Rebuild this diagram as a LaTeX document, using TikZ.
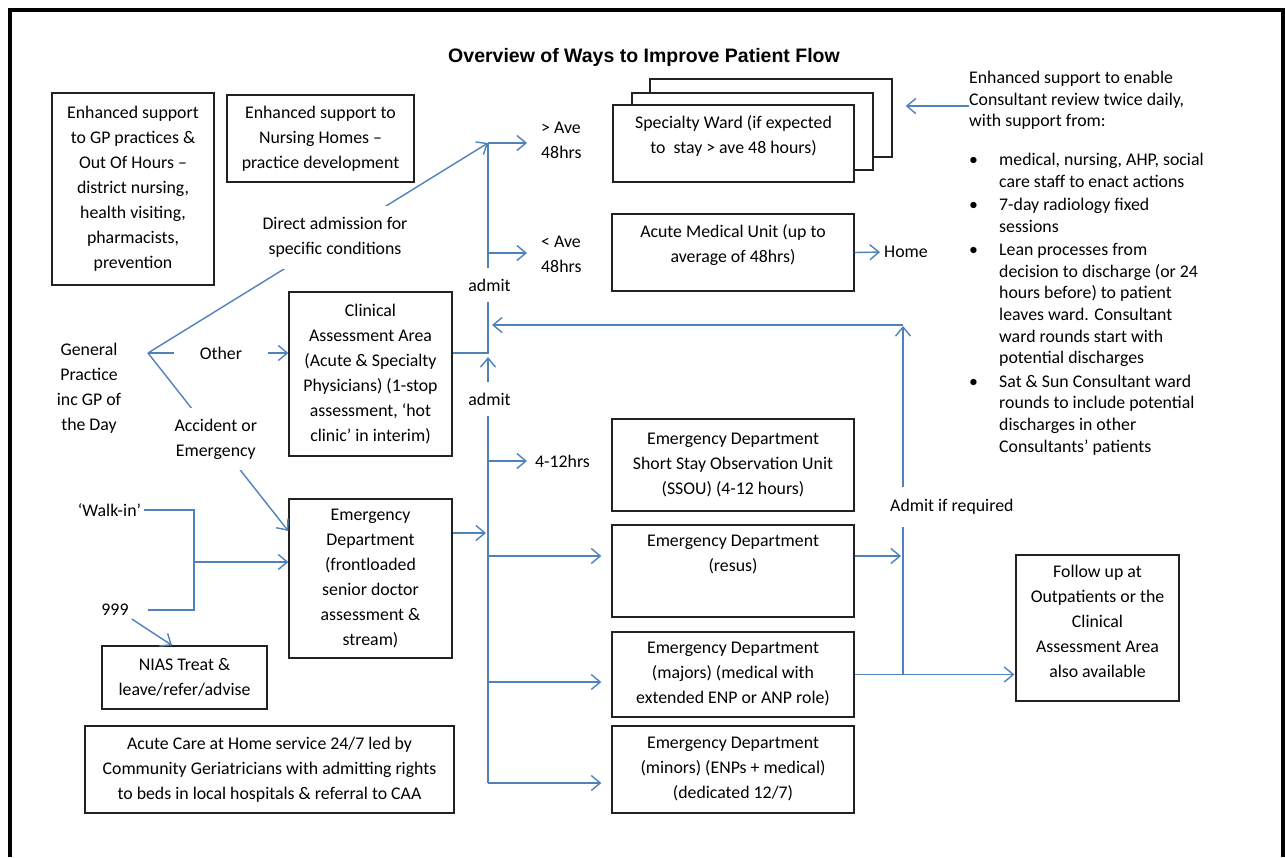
\documentclass[tikz,border=0pt]{standalone}
\usepackage{fontspec}
\setmainfont{Carlito}
\newfontfamily\ttlfamily{Liberation Sans}
\usetikzlibrary{arrows.meta}
\definecolor{flowblue}{HTML}{4F81BD}
\definecolor{boxline}{HTML}{222222}
\newcommand{\bodyfont}{\fontsize{17.8}{25}\selectfont}
\newcommand{\listfont}{\fontsize{17.8}{21.7}\selectfont}
\tikzset{
  pageframe/.style={draw=black, line width=4pt},
  box/.style={draw=boxline, line width=1.3pt, fill=white, align=center, font=\bodyfont, inner sep=0pt},
  lab/.style={font=\bodyfont, align=center, inner sep=3pt},
  gapl/.style={lab, fill=white, inner xsep=4pt, inner ysep=11pt},
  link/.style={draw=flowblue, line width=1.4pt},
  flow/.style={link, -{Straight Barb[length=9pt,width=15pt]}},
}

\begin{document}
\begin{tikzpicture}[x=1pt,y=-1pt]
  \useasboundingbox (0,0) rectangle (1285,857);
  \draw[pageframe] (9.5,857) -- (9.5,10) -- (1282.5,10) -- (1282.5,857);

  \node[font={\ttlfamily\bfseries\fontsize{19.5}{24}\selectfont}] (title) at (644,57)
    {Overview of Ways to Improve Patient Flow};

  % left side
  \node[box, minimum width=162pt, minimum height=192pt] (gpsup) at (133,189)
    {Enhanced support\\to GP practices \&\\Out Of Hours –\\district nursing,\\health visiting,\\pharmacists,\\prevention};
  \node[box, minimum width=187pt, minimum height=87pt] (nurse) at (320.5,138.5)
    {Enhanced support to\\Nursing Homes –\\practice development};
  \node[lab] (gp) at (89,388.5) {General\\Practice\\inc GP of\\the Day};
  \coordinate (fan) at (148,353);
  \node[box, minimum width=163pt, minimum height=164pt] (caa) at (370.5,374)
    {Clinical\\Assessment Area\\(Acute \& Specialty\\Physicians) (1-stop\\assessment, ‘hot\\clinic’ in interim)};
  \node[box, minimum width=163pt, minimum height=159pt] (edfront) at (370.5,578.5)
    {Emergency\\Department\\(frontloaded\\senior doctor\\assessment \&\\stream)};
  \node[lab] (walkin) at (109.5,510) {‘Walk-in’};
  \node[lab] (n999) at (115,610) {999};
  \node[box, minimum width=165pt, minimum height=63pt] (nias) at (184.5,677.5)
    {NIAS Treat \&\\leave/refer/advise};
  \node[box, minimum width=369pt, minimum height=87pt] (acute) at (269.5,769.5)
    {Acute Care at Home service 24/7 led by\\Community Geriatricians with admitting rights\\to beds in local hospitals \& referral to CAA};

  % wards and ED streams
  \node[box, minimum width=242pt, minimum height=78pt] (ward3) at (771,118) {};
  \node[box, minimum width=241pt, minimum height=77pt] (ward2) at (752.5,131.5) {};
  \node[box, minimum width=241pt, minimum height=77pt] (ward) at (733.5,143.5)
    {Specialty Ward (if expected\\to\ \ stay > ave 48 hours)\\[-6pt]\mbox{}};
  \node[box, minimum width=242pt, minimum height=77pt] (amu) at (733,252.5)
    {Acute Medical Unit (up to\\average of 48hrs)\\[-6pt]\mbox{}};
  \node[box, minimum width=242pt, minimum height=92pt] (ssou) at (733,465)
    {Emergency Department\\Short Stay Observation Unit\\(SSOU) (4-12 hours)};
  \node[box, minimum width=242pt, minimum height=92pt] (resus) at (733,571)
    {Emergency Department\\(resus)\\[10pt]\mbox{}};
  \node[box, minimum width=242pt, minimum height=85pt] (majors) at (733,674.5)
    {Emergency Department\\(majors) (medical with\\extended ENP or ANP role)};
  \node[box, minimum width=242pt, minimum height=87pt] (minors) at (733,769.5)
    {Emergency Department\\(minors) (ENPs + medical)\\(dedicated 12/7)};
  \node[box, minimum width=163pt, minimum height=146pt] (follow) at (1097.5,628)
    {Follow up at\\Outpatients or the\\Clinical\\Assessment Area\\also available\\[-11pt]\mbox{}};

  \node[lab, align=left, anchor=west, inner sep=0pt] (gtave) at (541,140.5) {> Ave\\48hrs};
  \node[lab, align=left, anchor=west, inner sep=0pt] (ltave) at (541,254.5) {< Ave\\48hrs};
  \node[lab, anchor=west, inner sep=0pt] (hrs) at (535,461) {4-12hrs};
  \node[lab, anchor=west, inner sep=0pt] (home) at (884,252) {Home};

  \node[font=\listfont, anchor=north west, inner sep=0pt] (rtext) at (969,68) {%
    \begin{tabular}{@{}p{30pt}@{}l@{}}
      \multicolumn{2}{@{}l@{}}{Enhanced support to enable}\\
      \multicolumn{2}{@{}l@{}}{Consultant review twice daily,}\\
      \multicolumn{2}{@{}l@{}}{with support from:}\\[17pt]
      \textbullet & medical, nursing, AHP, social\\
                  & care staff to enact actions\\[1.6pt]
      \textbullet & 7-day radiology fixed\\
                  & sessions\\[1.6pt]
      \textbullet & Lean processes from\\
                  & decision to discharge (or 24\\
                  & hours before) to patient\\
                  & leaves ward. Consultant\\
                  & ward rounds start with\\
                  & potential discharges\\[1.6pt]
      \textbullet & Sat \& Sun Consultant ward\\
                  & rounds to include potential\\
                  & discharges in other\\
                  & Consultants’ patients
    \end{tabular}};

  % junctions
  \coordinate (topJ) at (488,143);
  \coordinate (amuJ) at (488,253);
  \coordinate (caaJ) at (488,353);
  \coordinate (ssouJ) at (488,461);
  \coordinate (edJ) at (488,533);
  \coordinate (resusJ) at (488,556);
  \coordinate (majJ) at (488,682);
  \coordinate (minJ) at (488,783);
  \coordinate (walkJ) at (194,562);
  \coordinate (backJ) at (903,325);
  \coordinate (resusR) at (903,556);
  \coordinate (majR) at (903,674.5);

  % GP routes
  \draw[flow] (fan) -- node[gapl, pos=0.52, inner xsep=26pt, inner ysep=6pt] (other) {Other} (caa.west |- fan);
  \draw[flow] (fan) -- node[gapl, pos=0.55, inner xsep=6pt] (direct) {Direct admission for\\specific conditions} (topJ);
  \draw[flow] (fan) -- node[gapl, pos=0.483] (accident) {Accident or\\Emergency} (edfront.west |- 0,531);
  \draw[link] (walkin.east) -| (walkJ) |- ([xshift=16pt]n999.east);
  \draw[flow] (walkJ) -- (edfront.west |- walkJ);
  \draw[flow] (n999.south east) -- (nias.north -| 172,0);

  % admissions spine
  \draw[link] (caa.east |- caaJ) -- (caaJ) -- (topJ);
  \draw[flow, shorten >=14pt] (topJ) -- (topJ -| gtave.west);
  \draw[flow, shorten >=14pt] (amuJ) -- (amuJ -| ltave.west);
  \draw[flow, shorten >=2pt] (edfront.east |- edJ) -- (edJ);
  \draw[flow, shorten >=4pt] (minJ) -- (caaJ);
  \draw[flow, shorten >=8pt] (ssouJ) -- (ssouJ -| hrs.west);
  \draw[flow, shorten >=10pt] (resusJ) -- (resusJ -| resus.west);
  \draw[flow, shorten >=10pt] (majJ) -- (majJ -| majors.west);
  \draw[flow, shorten >=10pt] (minJ) -- (minJ -| minors.west);
  \draw[flow, shorten >=4pt] (amu.east) -- (home.west);

  % right side
  \draw[flow, shorten >=2pt] (resus.east |- resusR) -- (resusR);
  \draw[flow, shorten >=1pt] (majors.east) -- (follow.west |- majors.east);
  \draw[flow, shorten >=1pt] (majR) -- (backJ);
  \draw[flow, shorten >=4pt] (backJ) -- (caaJ |- backJ);
  \draw[flow, shorten >=13pt] ([yshift=-38pt]rtext.north west) -- ([yshift=-38pt]rtext.north west -| ward3.east);

  \node[gapl] (admitA) at (489.5,285) {admit};
  \node[gapl] (admitB) at (489.5,399) {admit};
  \node[gapl, anchor=west, inner ysep=12pt] (admitR) at (886,507) {Admit if required};
\end{tikzpicture}
\end{document}
